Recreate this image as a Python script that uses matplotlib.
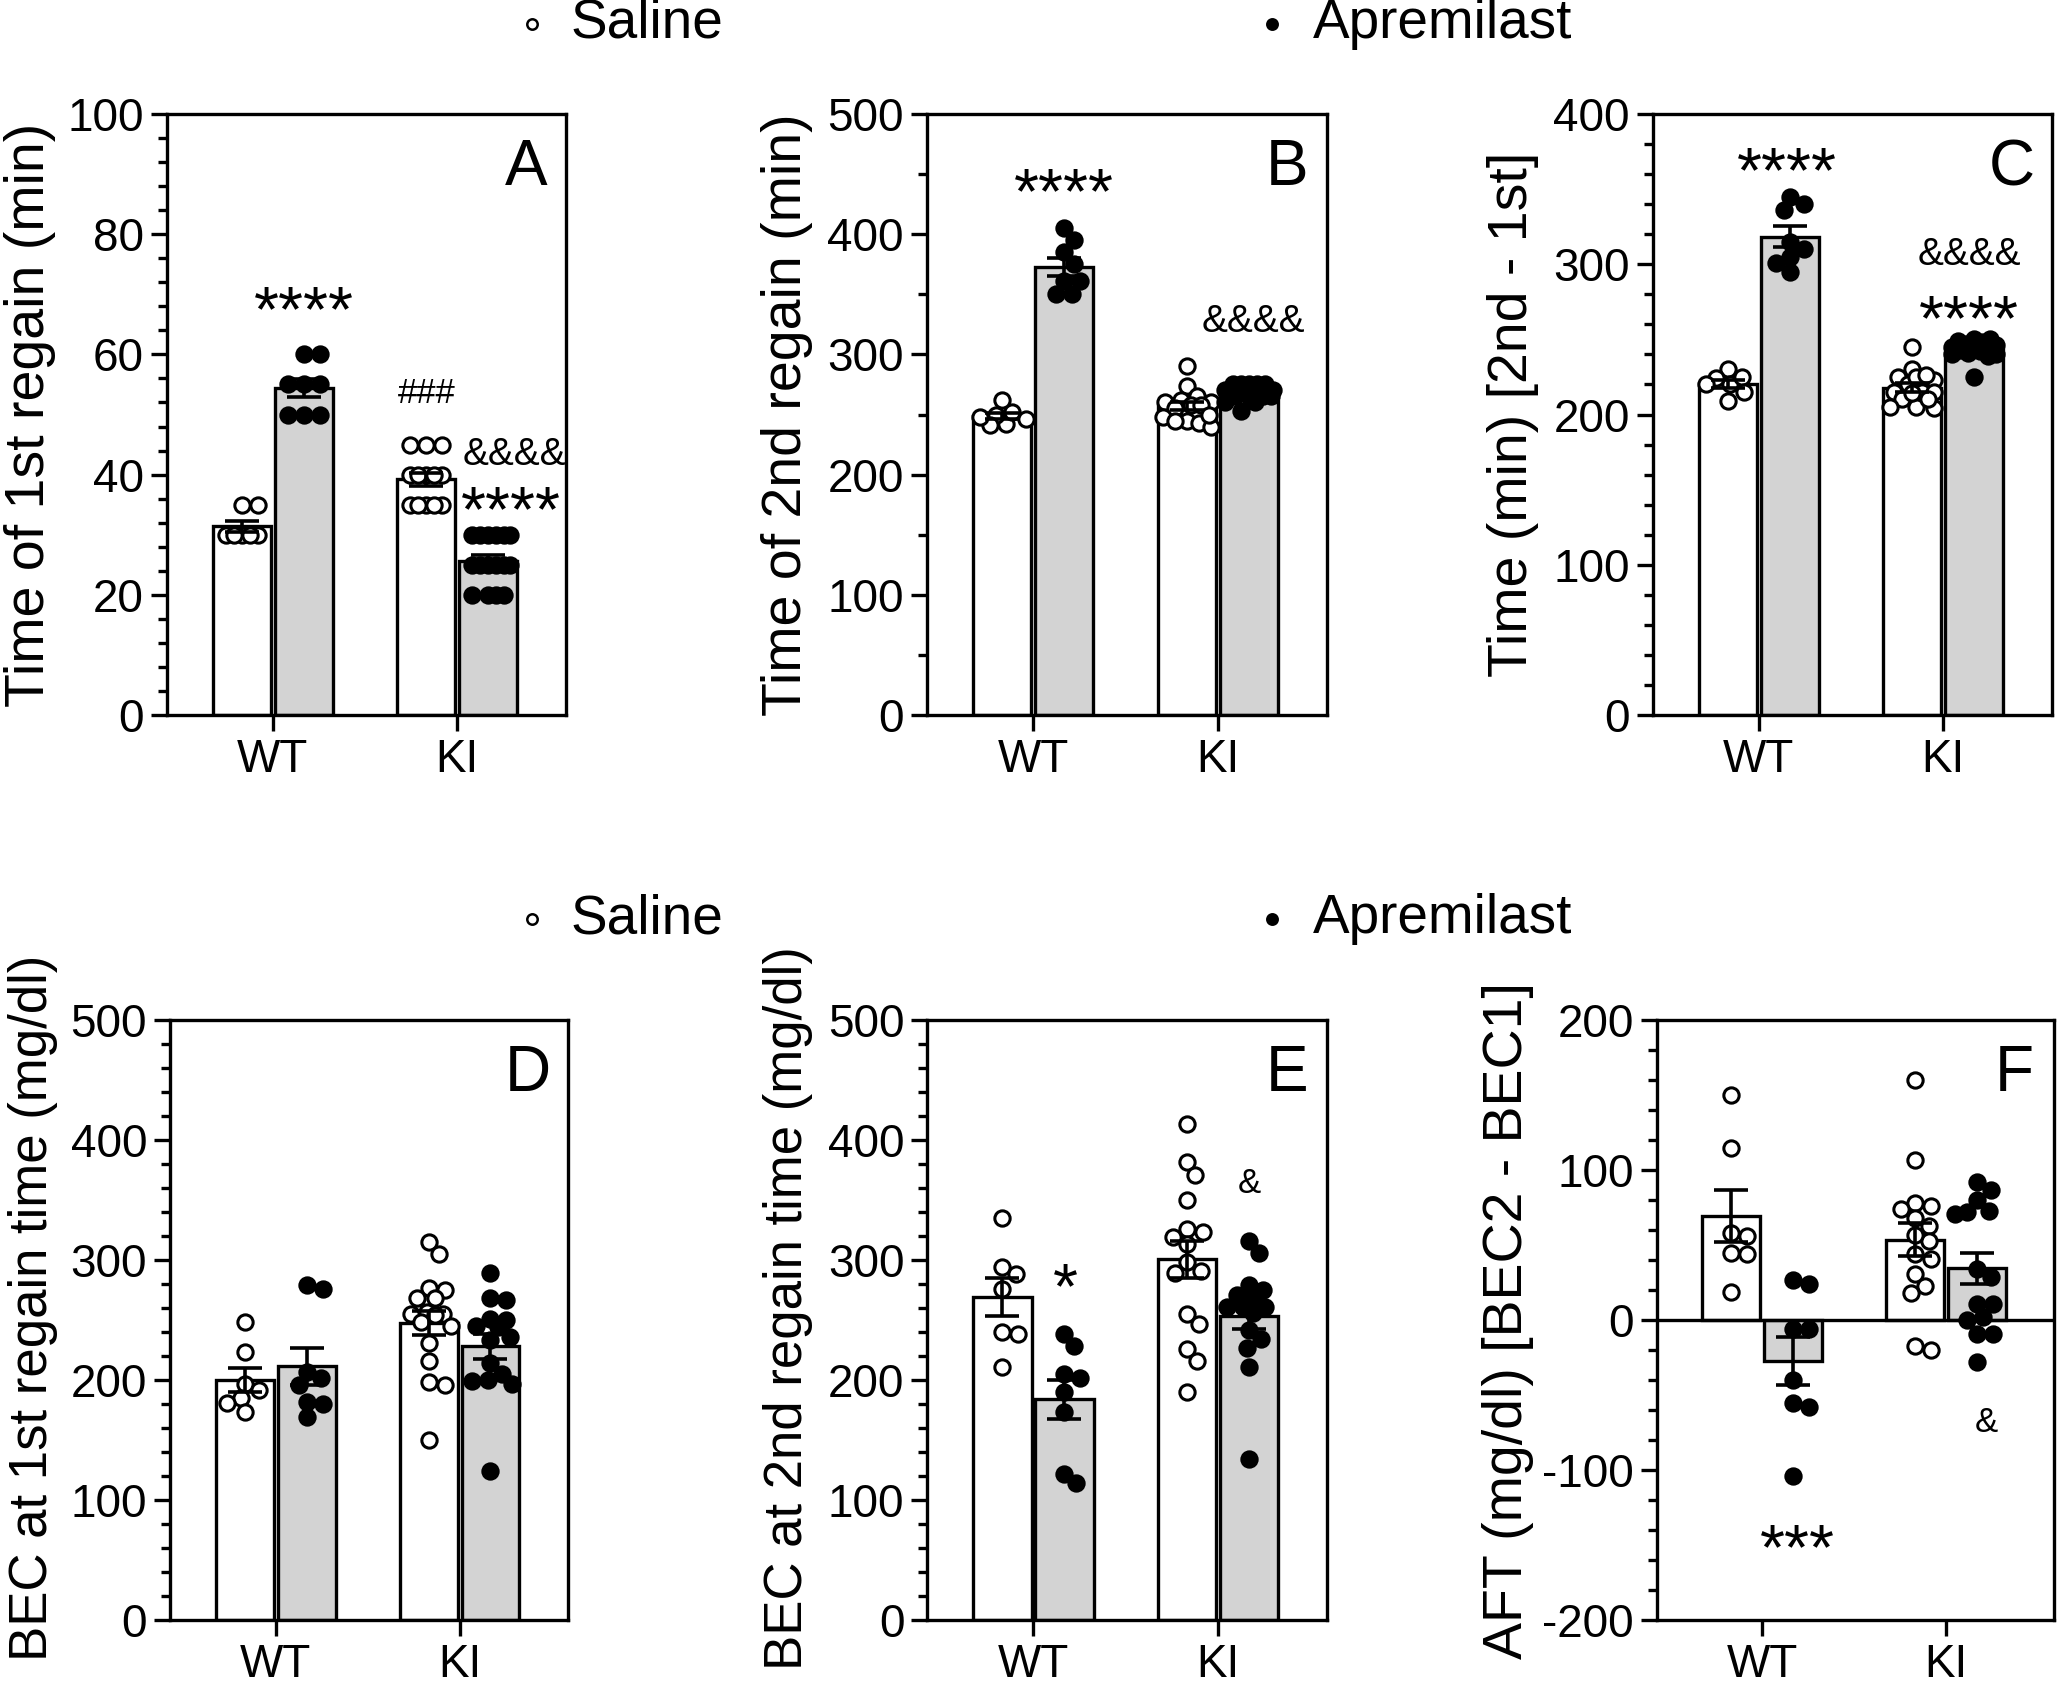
import numpy as np
import matplotlib
matplotlib.use("Agg")
import matplotlib.pyplot as plt
from matplotlib.lines import Line2D
from matplotlib.ticker import MultipleLocator

plt.rcParams.update({
    "font.family": ["Liberation Sans", "DejaVu Sans"],
    "axes.linewidth": 2.4,
    "axes.unicode_minus": False,
})

GRAY = "#d3d3d3"
GROUPS = ["WT", "KI"]

# ── data ─────────────────────────────────────────────────────────────────────
a_wt_sal = [30, 30, 30, 30, 30, 35, 35]
a_wt_apr = [60, 60, 55, 55, 55, 50, 50, 50]
a_ki_sal = [45, 45, 45, 40, 40, 40, 40, 40, 35, 35, 35, 35, 35]
a_ki_apr = [30, 30, 30, 30, 30, 30, 25, 25, 25, 25, 25, 25, 20, 20, 20, 20]

b_wt_sal = [242, 252, 262, 250, 241, 246, 248]
b_wt_apr = [405, 395, 385, 375, 361, 361, 350, 350]
b_ki_sal = [290, 274, 265, 262, 260, 260, 258, 258, 255, 248, 245, 245, 243, 240, 250]
b_ki_apr = [275, 275, 275, 275, 275, 270, 270, 270, 270, 265, 265, 265, 265, 260, 260, 253]

c_wt_sal = [230, 220, 224, 225, 220, 209, 215]
c_wt_apr = [345, 336, 340, 315, 310, 305, 301, 295]
c_ki_sal = [245, 230, 225, 220, 223, 225, 226, 215, 215, 215, 210, 205, 204, 205, 210, 214]
c_ki_apr = [250, 250, 249, 248, 247, 246, 245, 245, 244, 243, 242, 241, 240, 240, 239, 225]

d_wt_sal = [248, 223, 197, 185, 192, 181, 173]
d_wt_apr = [279, 276, 202, 207, 196, 182, 180, 169]
d_ki_sal = [315, 305, 275, 277, 268, 268, 257, 255, 254, 255, 248, 245, 231, 216, 196, 198, 150]
d_ki_apr = [289, 267, 268, 250, 251, 245, 244, 233, 236, 214, 205, 199, 200, 197, 124]

e_wt_sal = [335, 288, 294, 276, 240, 238, 211]
e_wt_apr = [238, 228, 202, 205, 190, 173, 114, 122]
e_ki_sal = [413, 382, 371, 350, 326, 323, 319, 313, 298, 291, 289, 255, 247, 226, 216, 190]
e_ki_apr = [316, 306, 279, 275, 271, 269, 261, 261, 261, 256, 242, 234, 227, 211, 134]

f_wt_sal = [150, 115, 58, 56, 45, 44, 19]
f_wt_apr = [24, 27, -6, -6, -40, -55, -58, -104]
f_ki_sal = [160, 107, 78, 76, 74, 68, 63, 53, 57, 41, 44, 31, 23, 18, -20, -17]
f_ki_apr = [92, 87, 80, 72, 73, 71, 34, 29, 11, 11, 2, 0, -9, -9, -28]

OFF = 0.168
BW = 0.315
DOT_PX = 16.0


def swarm(ax, vals, xc, max_half=0.13):
    """Deterministic beeswarm: spread equal-ish values sideways within the bar."""
    tr = ax.transData
    xc_px = tr.transform((xc, 0))[0]
    max_px = tr.transform((xc + max_half, 0))[0] - xc_px
    step = 2.0
    cands = [0.0]
    k = 1
    while k * step <= max_px:
        cands += [k * step, -k * step]
        k += 1
    placed = []
    out = [0.0] * len(vals)
    order = sorted(range(len(vals)), key=lambda i: -vals[i])
    for i in order:
        y_px = tr.transform((xc, vals[i]))[1]
        best, best_d = 0.0, -1.0
        for c in cands:
            d = min([np.hypot(c - px, y_px - py) for px, py in placed], default=1e9)
            if d >= DOT_PX * 0.92:
                best = c
                break
            if d > best_d:
                best_d, best = d, c
        placed.append((best, y_px))
        out[i] = tr.inverted().transform((xc_px + best, y_px))[0]
    return out


def note(ax, x, y, s, fs, centre):
    ax.annotate(s, (x, y), xytext=(0, -centre * fs), textcoords="offset points",
                ha="center", va="baseline", fontsize=fs, zorder=6, annotation_clip=False)


def panel(rect, sal, apr, ylabel, ylim, major, minor, letter, notes, labelpad=10,
          zero_line=False, label_fs=40, label_y=0.5):
    ax = fig.add_axes(rect)
    ax.set_xlim(-0.575, 1.59)
    ax.set_ylim(*ylim)
    for gi in range(2):
        for vals, off, face, mfc in ((sal[gi], -OFF, "white", "white"), (apr[gi], OFF, GRAY, "black")):
            x = gi + off
            m = np.mean(vals)
            sem = np.std(vals, ddof=1) / np.sqrt(len(vals))
            ax.bar(x, m, width=BW, color=face, edgecolor="black", linewidth=2.4, zorder=2)
            xs = swarm(ax, vals, x)
            ax.plot(xs, vals, "o", ms=11, mfc=mfc, mec="black", mew=2.2, zorder=3, clip_on=False)
            ax.errorbar(x, m, yerr=sem, color="black", lw=2.6, capsize=12, capthick=2.6, zorder=4)
    if zero_line:
        ax.axhline(0, color="black", lw=2.4, zorder=5)
    ax.yaxis.set_major_locator(MultipleLocator(major))
    ax.yaxis.set_minor_locator(MultipleLocator(minor))
    ax.set_xticks([0, 1], GROUPS)
    ax.tick_params(which="major", length=11.5, width=2.4, labelsize=33, pad=5)
    ax.tick_params(which="minor", length=6.5, width=2.4)
    ax.tick_params(axis="x", which="minor", bottom=False)
    ax.set_ylabel(ylabel, fontsize=label_fs, labelpad=labelpad)
    ax.yaxis.label.set_y(label_y)
    ax.text(0.9, 0.91, letter, transform=ax.transAxes, ha="center", va="center", fontsize=46)
    for x, y, s, fs, c in notes:
        note(ax, x, y, s, fs, c)
    return ax


fig = plt.figure(figsize=(20.59, 16.86), dpi=100)

STAR, AMP = 0.57, 0.36

panel((0.0810, 0.5759, 0.1939, 0.3565), [a_wt_sal, a_ki_sal], [a_wt_apr, a_ki_apr],
      "Time of 1st regain (min)", (0, 100), 20, 4, "A",
      [(0.17, 70, "****", 46, STAR), (0.835, 54, "###", 25, AMP),
       (1.31, 44, "&&&&", 28, AMP), (1.29, 36.6, "****", 46, STAR)], labelpad=8)
panel((0.4501, 0.5759, 0.1943, 0.3565), [b_wt_sal, b_ki_sal], [b_wt_apr, b_ki_apr],
      "Time of 2nd regain (min)", (0, 500), 100, 50, "B",
      [(0.166, 448, "****", 46, STAR), (1.19, 330, "&&&&", 28, AMP)])
panel((0.8027, 0.5759, 0.1939, 0.3565), [c_wt_sal, c_ki_sal], [c_wt_apr, c_ki_apr],
      "Time (min) [2nd - 1st]", (0, 400), 100, 20, "C",
      [(0.15, 372, "****", 46, STAR), (1.14, 309, "&&&&", 28, AMP), (1.14, 274, "****", 46, STAR)])
panel((0.0826, 0.0391, 0.1933, 0.3559), [d_wt_sal, d_ki_sal], [d_wt_apr, d_ki_apr],
      "BEC at 1st regain time (mg/dl)", (0, 500), 100, 20, "D", [], labelpad=9,
      label_fs=38, label_y=0.52)
panel((0.4504, 0.0391, 0.1940, 0.3559), [e_wt_sal, e_ki_sal], [e_wt_apr, e_ki_apr],
      "BEC at 2nd regain time (mg/dl)", (0, 500), 100, 20, "E",
      [(0.172, 290, "*", 46, STAR), (1.172, 366, "&", 25, AMP)], labelpad=11,
      label_fs=38, label_y=0.52)
panel((0.8046, 0.0391, 0.1930, 0.3559), [f_wt_sal, f_ki_sal], [f_wt_apr, f_ki_apr],
      "AFT (mg/dl) [BEC2 - BEC1]", (-200, 200), 100, 20, "F",
      [(0.19, -142, "***", 46, STAR), (1.22, -66, "&", 25, AMP)], labelpad=6, zero_line=True)

# legends (one per row, spread across the top of each row)
for y_leg in (0.9858, 0.4549):
    for mx, tx, mfc, label in ((0.2584, 0.2773, "white", "Saline"),
                               (0.6180, 0.6375, "black", "Apremilast")):
        fig.add_artist(Line2D([mx], [y_leg], transform=fig.transFigure, marker="o", ms=7.5,
                              mfc=mfc, mec="black", mew=1.8, linestyle="none"))
        fig.text(tx, y_leg, label, fontsize=39.5, ha="left", va="center")

fig.savefig("out.png", dpi=100)
